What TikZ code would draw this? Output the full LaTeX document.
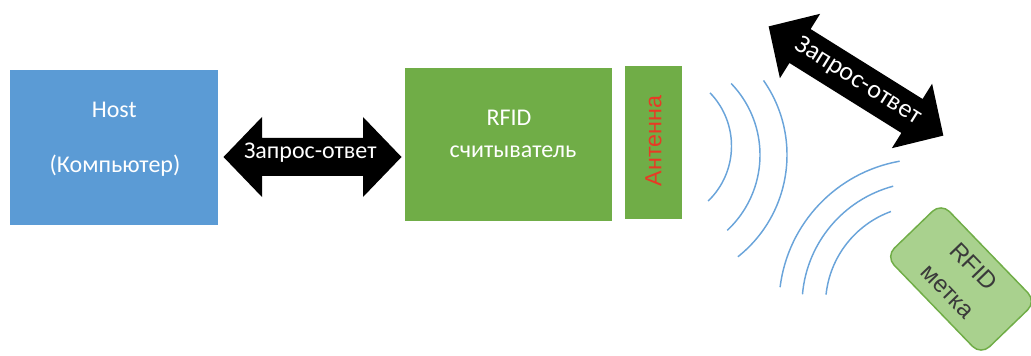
\documentclass[tikz,border=0pt]{standalone}
\usepackage{fontspec}
\setmainfont{Carlito}
\newfontfamily\arialfont{Liberation Sans}
\usetikzlibrary{fit}
\definecolor{hostblue}{HTML}{5B9BD5}
\definecolor{rdgreen}{HTML}{70AD47}
\definecolor{taggreen}{HTML}{A9D18E}
\definecolor{wavecol}{HTML}{6AA4DA}
\definecolor{antred}{HTML}{E83A25}
\definecolor{tagtext}{HTML}{3A3A3A}
\tikzset{
  pics/dblarr/.style n args={4}{code={
    \fill[black] (-#1,0) -- (-#1+#2,-#3) -- (-#1+#2,-#4) -- (#1-#2,-#4) -- (#1-#2,-#3)
      -- (#1,0) -- (#1-#2,#3) -- (#1-#2,#4) -- (-#1+#2,#4) -- (-#1+#2,#3) -- cycle;
  }}
}
\begin{document}
\begin{tikzpicture}[x=0.75pt,y=-0.75pt,
  block/.style={inner sep=0pt, outer sep=0pt, draw=none},
  whitetxt/.style={text=white, font=\fontsize{18}{21}\selectfont, inner sep=0pt},
  wave/.style={draw=wavecol, line width=1.1pt},
]
\useasboundingbox (0,0) rectangle (1031,356);
\clip (0,0) rectangle (1031,356);
% host
\node[block, fill=hostblue, fit={(10,70)(218,225)}] (host) {};
\node[whitetxt, anchor=base] (hostA) at (114.2,117.3) {Host};
\node[whitetxt, anchor=base] (hostB) at (115,172.3) {(Компьютер)};
% reader
\node[block, fill=rdgreen, fit={(405,68)(612,221)}] (reader) {};
\node[whitetxt, anchor=base] (rdA) at (509,126) {RFID};
\node[whitetxt, anchor=base] (rdB) at (513,157.7) {считыватель};
% antenna
\node[block, fill=rdgreen, fit={(625,66)(682,219)}] (ant) {};
\node[rotate=90, text=antred, font=\arialfont\fontsize{17.5}{20}\selectfont, inner sep=0pt] (antlbl) at (653.5,141) {Антенна};
% horizontal double arrow
\pic (arr1) at (312.5,157) {dblarr={89}{38.5}{40}{19}};
\node[whitetxt, anchor=base] (q1) at (310.3,158.3) {Запрос-ответ};
% diagonal double arrow
\pic[rotate=-32] (arr2) at (856,81) {dblarr={103}{37}{38}{20}};
\node[whitetxt, rotate=-32, font=\fontsize{19.5}{22}\selectfont] (q2) at (858,81) {Запрос-ответ};
% waves from antenna
\draw[wave] (655,146) ++(-44:76.5) arc[start angle=-44, end angle=46, radius=76.5];
\draw[wave] (657,155) ++(-44:103) arc[start angle=-44, end angle=47, radius=103];
\draw[wave] (657,155) ++(-35:130) arc[start angle=-35, end angle=51.5, radius=130];
% waves from tag
\draw[wave] (925,305) ++(187:146) arc[start angle=187, end angle=260, radius=146];
\draw[wave] (925,305) ++(185:123) arc[start angle=185, end angle=255, radius=123];
\draw[wave] (925,305) ++(186:99.5) arc[start angle=186, end angle=250, radius=99.5];
% tag
\node[draw=rdgreen, fill=taggreen, line width=1.1pt, rounded corners=9pt, rotate=-46,
  minimum width=102.75pt, minimum height=57.75pt, align=center, text=tagtext,
  font=\arialfont\fontsize{18}{27}\selectfont] (tag) at (961,279) {RFID\\метка};
\end{tikzpicture}
\end{document}
